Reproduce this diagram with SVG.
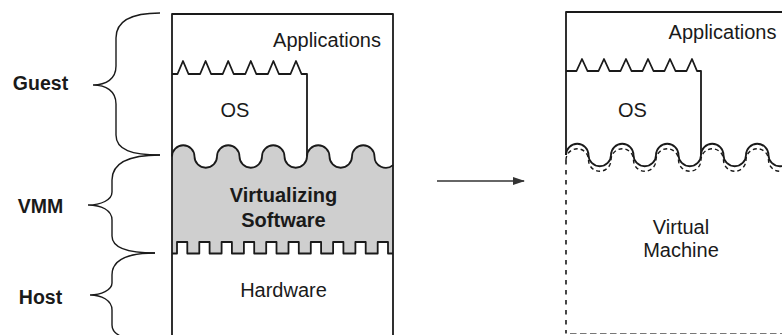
<svg xmlns="http://www.w3.org/2000/svg" width="782" height="335" viewBox="0 0 782 335">
<style>
.ln{fill:none;stroke:#1a1a1a;stroke-width:1.8;stroke-linejoin:round}
.br{fill:none;stroke:#1a1a1a;stroke-width:1.4}
.t{font-family:"Liberation Sans",Arial,sans-serif;font-size:20px;fill:#1a1a1a;text-anchor:middle}
.b{font-weight:bold}
.lbl{font-family:"Liberation Sans",Arial,sans-serif;font-size:19.5px;font-weight:bold;fill:#1a1a1a;text-anchor:middle}
.dash{fill:none;stroke:#1a1a1a;stroke-width:1.6;stroke-dasharray:4.5 5.5}
.dw{fill:none;stroke:#1a1a1a;stroke-width:1.4;stroke-dasharray:4 3}
</style>
<defs>
<marker id="ah" markerWidth="12" markerHeight="10" refX="11" refY="5" orient="auto" markerUnits="userSpaceOnUse">
<path d="M0,1 L12,5 L0,9 Z" fill="#333"/>
</marker>
</defs>
<g id="braces">
<path class="br" d="M160,13 C132,13 116,20 116,38 L116,66 C116,79 106,85 93,85 C106,85 116,91 116,104 L116,135 C116,150 132,155 160,155"/>
<path class="br" d="M160,155 C130,155 112,162 112,180 L112,192 C112,200 101,205 88,205 C101,205 112,210 112,220 L112,236 C112,248 128,253 155,253"/>
<path class="br" d="M155,253 C128,253 112,260 112,275 L112,283 C112,290 101,295 90,295 C101,295 112,300 112,310 L112,325 C112,336 126,341 155,341"/>
</g>
<g id="labels">
<text class="lbl" x="40.5" y="90">Guest</text>
<text class="lbl" x="40.5" y="213">VMM</text>
<text class="lbl" x="40.5" y="304">Host</text>
</g>
<g id="host-stack">
<path d="M172,156.5 A11.25 11.25 0 0 1 194.5,156.5 A11.25 11.25 0 0 0 217,156.5 A11.25 11.25 0 0 1 239.5,156.5 A11.25 11.25 0 0 0 262,156.5 A11.25 11.25 0 0 1 284.5,156.5 A11.25 11.25 0 0 0 307,156.5 A11.25 11.25 0 0 1 329.5,156.5 A11.25 11.25 0 0 0 352,156.5 A11.25 11.25 0 0 1 374.5,156.5 A11.25 11.25 0 0 0 393,165.1 L393,253.5 H388 V242 H377.7 V253.5 H365.7 V242 H355.4 V253.5 H343.4 V242 H333.1 V253.5 H321.1 V242 H310.8 V253.5 H298.8 V242 H288.5 V253.5 H276.5 V242 H266.2 V253.5 H254.2 V242 H243.9 V253.5 H231.9 V242 H221.6 V253.5 H209.6 V242 H199.3 V253.5 H187.3 V242 H177 V253.5 H172 Z" fill="#cfcfcf"/>
<path class="ln" d="M172,156.5 A11.25 11.25 0 0 1 194.5,156.5 A11.25 11.25 0 0 0 217,156.5 A11.25 11.25 0 0 1 239.5,156.5 A11.25 11.25 0 0 0 262,156.5 A11.25 11.25 0 0 1 284.5,156.5 A11.25 11.25 0 0 0 307,156.5 A11.25 11.25 0 0 1 329.5,156.5 A11.25 11.25 0 0 0 352,156.5 A11.25 11.25 0 0 1 374.5,156.5 A11.25 11.25 0 0 0 393,165.1"/>
<path class="ln" d="M172,253.5 H177 V242 H187.3 V253.5 H199.3 V242 H209.6 V253.5 H221.6 V242 H231.9 V253.5 H243.9 V242 H254.2 V253.5 H266.2 V242 H276.5 V253.5 H288.5 V242 H298.8 V253.5 H310.8 V242 H321.1 V253.5 H333.1 V242 H343.4 V253.5 H355.4 V242 H365.7 V253.5 H377.7 V242 H388 V253.5 H393"/>
<path class="ln" d="M172,74 L177.5,74 L183,61 L188.5,74 L200.1,74 L205.6,61 L211.1,74 L222.7,74 L228.2,61 L233.7,74 L245.3,74 L250.8,61 L256.3,74 L267.9,74 L273.4,61 L278.9,74 L290.5,74 L296,61 L301.5,74 L307,74 L307,156.5"/>
<path class="ln" d="M172,340 V14 H393 V340"/>
<text class="t" x="327" y="46.5">Applications</text>
<text class="t" x="235" y="116.5">OS</text>
<text class="t b" x="283.5" y="202">Virtualizing</text>
<text class="t b" x="283.5" y="227">Software</text>
<text class="t" x="283.5" y="296.5">Hardware</text>
</g>
<g id="connectors">
<line x1="437" y1="181" x2="524" y2="181" stroke="#333" stroke-width="1.6" marker-end="url(#ah)"/>
</g>
<g id="vm-stack">
<path class="ln" d="M566,155 A11.25 11.25 0 0 1 588.5,155 A11.25 11.25 0 0 0 611,155 A11.25 11.25 0 0 1 633.5,155 A11.25 11.25 0 0 0 656,155 A11.25 11.25 0 0 1 678.5,155 A11.25 11.25 0 0 0 701,155 A11.25 11.25 0 0 1 723.5,155 A11.25 11.25 0 0 0 746,155 A11.25 11.25 0 0 1 768.5,155 A11.25 11.25 0 0 0 791,155"/>
<path class="dw" d="M566,160 A11.25 11.25 0 0 1 588.5,160 A11.25 11.25 0 0 0 611,160 A11.25 11.25 0 0 1 633.5,160 A11.25 11.25 0 0 0 656,160 A11.25 11.25 0 0 1 678.5,160 A11.25 11.25 0 0 0 701,160 A11.25 11.25 0 0 1 723.5,160 A11.25 11.25 0 0 0 746,160 A11.25 11.25 0 0 1 768.5,160 A11.25 11.25 0 0 0 791,160"/>
<path class="ln" d="M566,71 L576.5,71 L582,59 L587.5,71 L598.5,71 L604,59 L609.5,71 L620.5,71 L626,59 L631.5,71 L642.5,71 L648,59 L653.5,71 L664.5,71 L670,59 L675.5,71 L686.5,71 L692,59 L697,71 L701,71 L701,155"/>
<path class="ln" d="M566,155 V12 H782"/>
<path class="dash" d="M566,160 V333.5"/>
<path d="M570,333.5 H782" fill="none" stroke="#777" stroke-width="1.2" stroke-dasharray="6.5 3.5"/>
<text class="t" x="722.5" y="38.5">Applications</text>
<text class="t" x="632.5" y="117">OS</text>
<text class="t" x="681" y="234">Virtual</text>
<text class="t" x="681" y="257">Machine</text>
</g>
</svg>
